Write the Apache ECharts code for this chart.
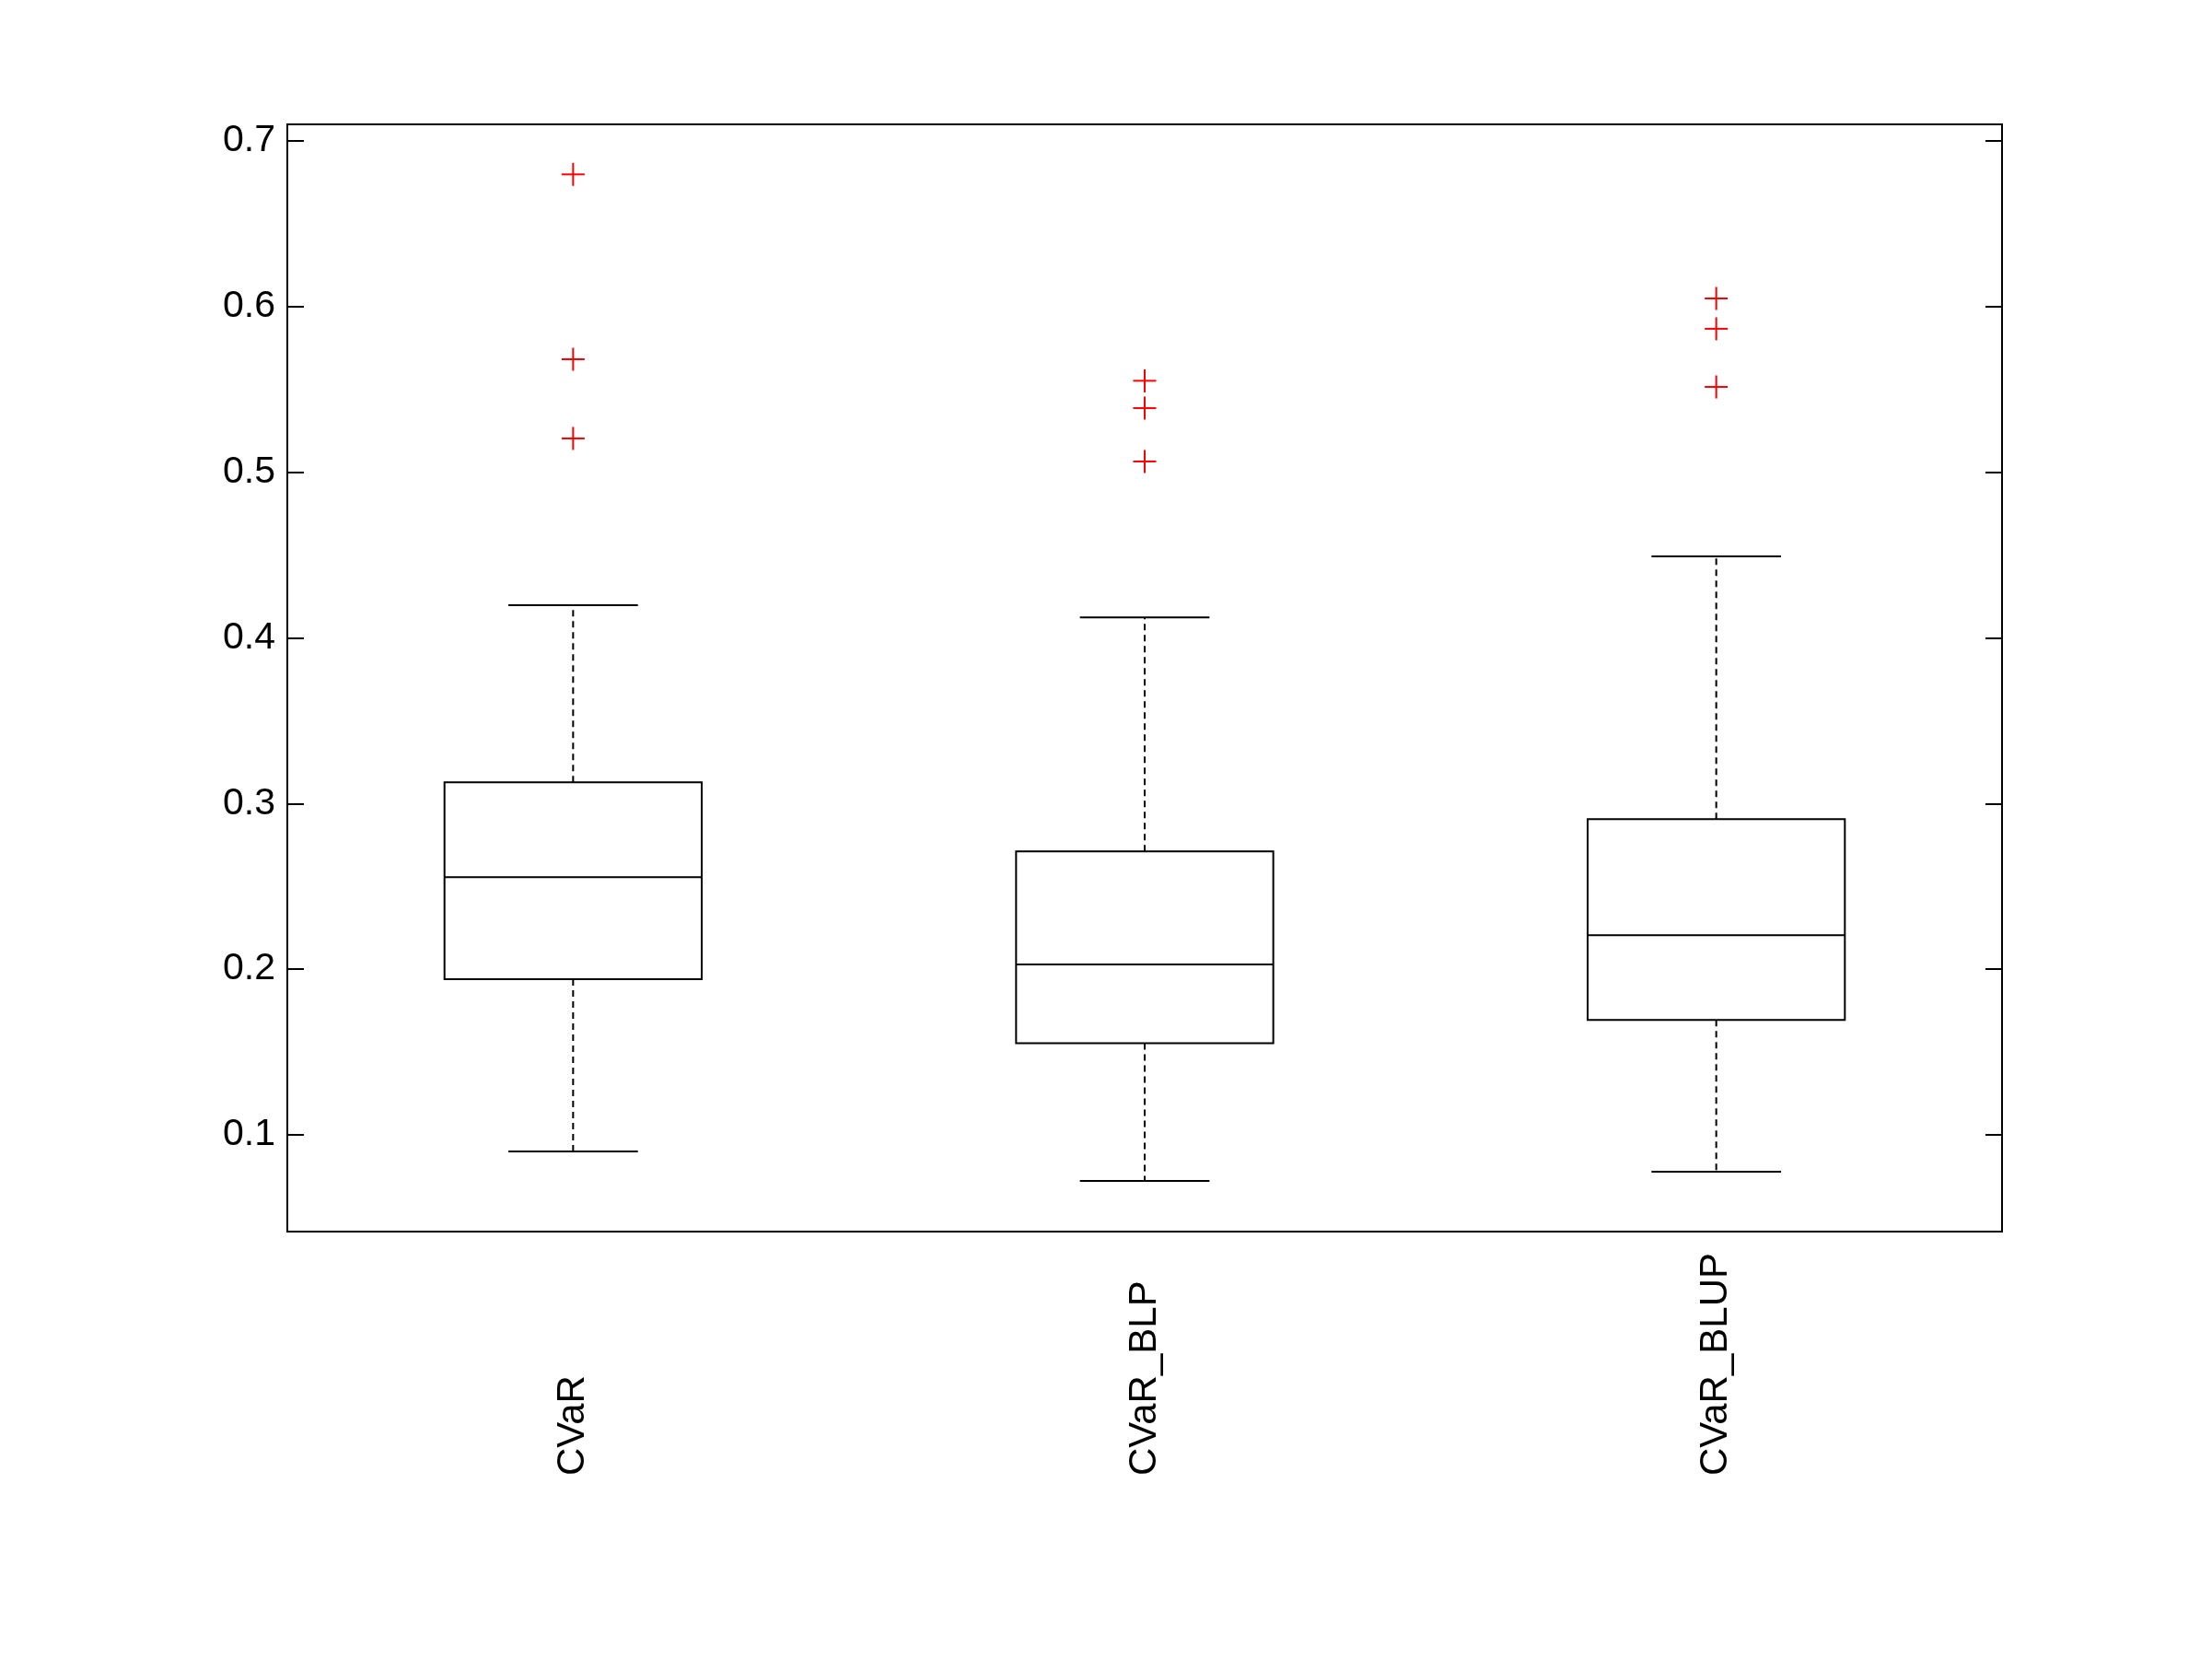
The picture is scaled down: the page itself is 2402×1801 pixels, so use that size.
<!DOCTYPE html>
<html>
<head>
<meta charset="utf-8">
<script src="https://cdn.jsdelivr.net/npm/echarts@6/dist/echarts.min.js"></script>
<style>
html,body{margin:0;padding:0;background:#fff;}
#chart{width:2402px;height:1801px;}
</style>
</head>
<body>
<div id="chart"></div>
<script>
const categories = ['CVaR', 'CVaR_BLP', 'CVaR_BLUP'];
const lowerWhisker = [0.090, 0.0722, 0.0778];
const q1 = [0.194, 0.1553, 0.1694];
const median = [0.2555, 0.2029, 0.2205];
const q3 = [0.3128, 0.2711, 0.2906];
const upperWhisker = [0.4197, 0.4123, 0.4492];
const outliersCVaR = [0.6798, 0.5682, 0.5204];
const outliersBLP = [0.5552, 0.5387, 0.5065];
const outliersBLUP = [0.6049, 0.5866, 0.5515];
const yTicks = [0.1, 0.2, 0.3, 0.4, 0.5, 0.6, 0.7];

const boxData = categories.map((c, i) => [i, lowerWhisker[i], q1[i], median[i], q3[i], upperWhisker[i]]);
const outlierData = [];
[outliersCVaR, outliersBLP, outliersBLUP].forEach((arr, i) => arr.forEach(v => outlierData.push([i, v])));

const chart = echarts.init(document.getElementById('chart'), null, {renderer: 'canvas'});
const LW = 2;
const yMin = 0.0416, yMax = 0.71;
const FONT = 'Liberation Sans, Arial, sans-serif';

chart.setOption({
  animation: false,
  backgroundColor: '#fff',
  grid: {left: 312, top: 135, right: 228, bottom: 464, show: true, borderColor: '#000', borderWidth: LW, backgroundColor: 'transparent'},
  xAxis: {
    type: 'category',
    data: categories,
    boundaryGap: true,
    axisLine: {show: false},
    axisTick: {show: false},
    splitLine: {show: false},
    axisLabel: {
      rotate: 90,
      align: 'left',
      verticalAlign: 'middle',
      margin: 265,
      color: '#000',
      fontSize: 42,
      fontFamily: FONT,
      interval: 0
    }
  },
  yAxis: [
    {
      type: 'value', min: yMin, max: yMax, position: 'left',
      axisLine: {show: false},
      splitLine: {show: false},
      axisTick: {show: true, inside: true, length: 18, customValues: yTicks, lineStyle: {color: '#000', width: LW}},
      axisLabel: {show: true, customValues: yTicks, margin: 13, color: '#000', fontSize: 41, fontFamily: FONT, formatter: v => v.toFixed(1)}
    },
    {
      type: 'value', min: yMin, max: yMax, position: 'right',
      axisLine: {show: false},
      splitLine: {show: false},
      axisTick: {show: true, inside: true, length: 18, customValues: yTicks, lineStyle: {color: '#000', width: LW}},
      axisLabel: {show: false}
    }
  ],
  series: [
    {
      type: 'custom',
      data: boxData,
      encode: {x: 0, y: [1, 2, 3, 4, 5]},
      renderItem: function (params, api) {
        const x = api.value(0);
        const pLow = api.coord([x, api.value(1)]);
        const pQ1 = api.coord([x, api.value(2)]);
        const pMed = api.coord([x, api.value(3)]);
        const pQ3 = api.coord([x, api.value(4)]);
        const pHigh = api.coord([x, api.value(5)]);
        const band = api.size([1, 0])[0];
        const hw = band * 0.45 / 2;
        const cw = band * 0.2267 / 2;
        const cx = pMed[0];
        const solid = {stroke: '#000', lineWidth: LW, fill: null};
        const dashed = {stroke: '#000', lineWidth: LW, lineDash: [7, 5], fill: null};
        return {
          type: 'group',
          children: [
            {type: 'line', shape: {x1: cx, y1: pQ3[1], x2: cx, y2: pHigh[1]}, style: dashed},
            {type: 'line', shape: {x1: cx, y1: pQ1[1], x2: cx, y2: pLow[1]}, style: dashed},
            {type: 'line', shape: {x1: cx - cw, y1: pHigh[1], x2: cx + cw, y2: pHigh[1]}, style: solid},
            {type: 'line', shape: {x1: cx - cw, y1: pLow[1], x2: cx + cw, y2: pLow[1]}, style: solid},
            {type: 'rect', shape: {x: cx - hw, y: pQ3[1], width: 2 * hw, height: pQ1[1] - pQ3[1]}, style: {stroke: '#000', lineWidth: LW, fill: 'none'}},
            {type: 'line', shape: {x1: cx - hw, y1: pMed[1], x2: cx + hw, y2: pMed[1]}, style: solid}
          ]
        };
      }
    },
    {
      type: 'custom',
      data: outlierData,
      encode: {x: 0, y: 1},
      renderItem: function (params, api) {
        const p = api.coord([api.value(0), api.value(1)]);
        const r = 12.5;
        const st = {stroke: '#ff0000', lineWidth: 2, fill: null};
        return {
          type: 'group',
          children: [
            {type: 'line', shape: {x1: p[0] - r, y1: p[1], x2: p[0] + r, y2: p[1]}, style: st},
            {type: 'line', shape: {x1: p[0], y1: p[1] - r, x2: p[0], y2: p[1] + r}, style: st}
          ]
        };
      }
    }
  ]
});
</script>
</body>
</html>
